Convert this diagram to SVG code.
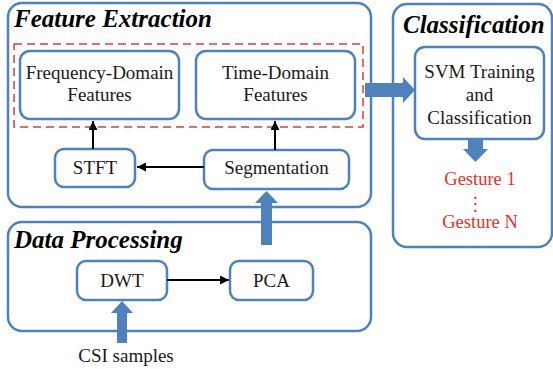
<svg xmlns="http://www.w3.org/2000/svg" width="553" height="369" viewBox="0 0 553 369">
  <style>
    .panel { fill: #ffffff; stroke: #4f81bd; stroke-width: 2.5; }
    .box { fill: #ffffff; stroke: #4f81bd; stroke-width: 2.5; }
    .title { font-size: 25px; font-weight: bold; font-style: italic; fill: #000; }
    .lbl { font-size: 19px; fill: #1a1a1a; text-anchor: middle; }
    .red { font-size: 18.5px; fill: #e8302a; text-anchor: middle; }
    .thin { stroke: #000; stroke-width: 2; fill: none; marker-end: url(#head); }
    .fat { fill: #4f81bd; }
  </style>
  <defs>
    <marker id="head" viewBox="0 0 10 10" refX="10" refY="5" markerWidth="4.5" markerHeight="4.5" orient="auto" markerUnits="strokeWidth">
      <path d="M0,0 L10,5 L0,10 z" fill="#000"/>
    </marker>
  </defs>

  <g font-family="'Liberation Serif', Tinos, 'Times New Roman', 'DejaVu Serif', serif">
  <!-- Panels -->
  <g id="feature-extraction">
    <rect class="panel" x="8" y="3" width="363" height="204" rx="14"/>
    <text class="title" x="14" y="27">Feature Extraction</text>
  </g>
  <g id="data-processing">
    <rect class="panel" x="8" y="222" width="363" height="109" rx="14"/>
    <text class="title" x="14" y="248">Data Processing</text>
  </g>
  <g id="classification">
    <rect class="panel" x="393" y="4" width="159" height="243" rx="14"/>
    <text class="title" x="403" y="33">Classification</text>
  </g>

  <!-- Feature group outline -->
  <rect x="14" y="44" width="349" height="83" fill="none" stroke="#e53935" stroke-width="1.5" stroke-dasharray="8,5"/>

  <!-- Nodes -->
  <g id="freq-features">
    <rect class="box" x="20" y="51" width="159" height="68" rx="10"/>
    <text class="lbl" x="99.5" y="79">Frequency-Domain</text>
    <text class="lbl" x="99.5" y="101">Features</text>
  </g>
  <g id="time-features">
    <rect class="box" x="196" y="51" width="159" height="68" rx="10"/>
    <text class="lbl" x="275.5" y="79">Time-Domain</text>
    <text class="lbl" x="275.5" y="101">Features</text>
  </g>
  <g id="stft">
    <rect class="box" x="55" y="149" width="80" height="38" rx="9"/>
    <text class="lbl" x="95" y="174">STFT</text>
  </g>
  <g id="segmentation">
    <rect class="box" x="204" y="150" width="145" height="39" rx="9"/>
    <text class="lbl" x="276.5" y="174">Segmentation</text>
  </g>
  <g id="dwt">
    <rect class="box" x="77" y="261" width="90" height="39" rx="9"/>
    <text class="lbl" x="122" y="287">DWT</text>
  </g>
  <g id="pca">
    <rect class="box" x="230" y="261" width="83" height="39" rx="9"/>
    <text class="lbl" x="271.5" y="287">PCA</text>
  </g>
  <g id="svm">
    <rect class="box" x="415" y="47" width="129" height="92" rx="10"/>
    <text class="lbl" x="479.5" y="78">SVM Training</text>
    <text class="lbl" x="479.5" y="101">and</text>
    <text class="lbl" x="479.5" y="124">Classification</text>
  </g>
  <g id="gestures">
    <text class="red" x="480" y="185">Gesture 1</text>
    <text class="red" x="475.5" y="210" font-family="'DejaVu Sans', sans-serif" font-size="20">⋮</text>
    <text class="red" x="480" y="228">Gesture N</text>
  </g>
  <g id="csi-samples">
    <text class="lbl" x="126" y="362">CSI samples</text>
  </g>
  </g>

  <!-- Connectors -->
  <g id="connectors">
    <line class="thin" x1="204" y1="167" x2="137" y2="167"/>
    <line class="thin" x1="93" y1="149" x2="93" y2="121"/>
    <line class="thin" x1="275" y1="150" x2="275" y2="121"/>
    <line class="thin" x1="167" y1="280" x2="229" y2="280"/>
    <!-- block arrows -->
    <path class="fat" d="M261,245 L261,203 L255,203 L266.5,191 L278,203 L272,203 L272,245 z"/>
    <path class="fat" d="M117,343 L117,313 L111,313 L122,301 L133,313 L127,313 L127,343 z"/>
    <path class="fat" d="M365,83 L403,83 L403,77 L415,90 L403,103 L403,97 L365,97 z"/>
    <path class="fat" d="M468,139 L483,139 L483,149 L488,149 L475.5,162 L463,149 L468,149 z"/>
  </g>
</svg>
